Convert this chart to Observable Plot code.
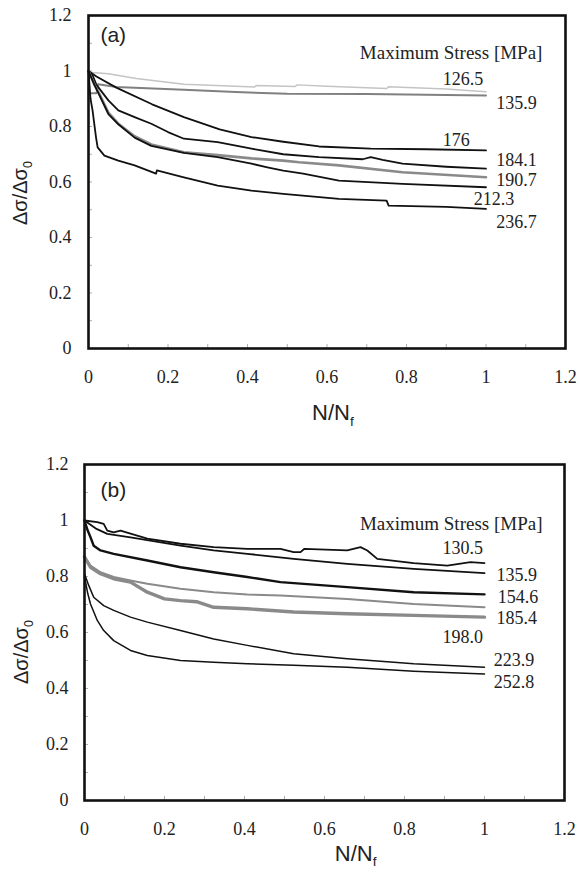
<!DOCTYPE html>
<html><head><meta charset="utf-8">
<script src="https://cdn.jsdelivr.net/npm/d3@7"></script>
<script src="https://cdn.jsdelivr.net/npm/@observablehq/plot@0.6"></script>
<style>
body{margin:0;background:#fff;}
#chart{width:580px;}
#chart svg{display:block;}
#chart svg text{font-family:'Liberation Serif','Times New Roman',serif;}
#chart svg text.sans{font-family:'Liberation Sans',Arial,sans-serif;}
</style></head><body><div id="chart"></div>
<script>
// ---------- Panel (a) series: [N/Nf, Δσ/Δσ0] ----------
const a1265 = [[0,1.0],[0.01,0.995],[0.05,0.99],[0.12,0.973],[0.24,0.952],[0.37,0.945],[0.418,0.942],[0.422,0.948],[0.52,0.944],[0.525,0.95],[0.6,0.945],[0.75,0.937],[0.755,0.943],[0.9,0.935],[1.0,0.925]];
const a1359 = [[0,0.92],[0.02,0.92],[0.024,0.952],[0.07,0.942],[0.24,0.932],[0.37,0.924],[0.5,0.918],[0.7,0.917],[1.0,0.912]];
const a176  = [[0,1.0],[0.02,0.98],[0.07,0.94],[0.16,0.88],[0.24,0.834],[0.33,0.79],[0.41,0.762],[0.49,0.745],[0.58,0.728],[0.71,0.72],[0.85,0.718],[1.0,0.714]];
const a1841 = [[0,1.0],[0.01,0.985],[0.02,0.95],[0.05,0.894],[0.075,0.858],[0.116,0.834],[0.158,0.81],[0.2,0.78],[0.24,0.756],[0.325,0.744],[0.41,0.72],[0.49,0.70],[0.58,0.69],[0.69,0.682],[0.71,0.69],[0.74,0.68],[0.79,0.666],[0.9,0.655],[1.0,0.648]];
const a1907 = [[0,1.0],[0.015,0.95],[0.03,0.91],[0.05,0.85],[0.075,0.81],[0.116,0.765],[0.158,0.735],[0.24,0.707],[0.325,0.697],[0.41,0.685],[0.49,0.677],[0.53,0.671],[0.63,0.66],[0.79,0.635],[1.0,0.617]];
const a2123 = [[0,1.0],[0.015,0.95],[0.03,0.905],[0.05,0.845],[0.075,0.808],[0.116,0.76],[0.158,0.73],[0.24,0.705],[0.325,0.69],[0.41,0.666],[0.45,0.653],[0.49,0.641],[0.54,0.63],[0.63,0.605],[0.79,0.593],[1.0,0.581]];
const a2367 = [[0,1.0],[0.005,0.9],[0.01,0.86],[0.019,0.76],[0.023,0.725],[0.04,0.695],[0.075,0.677],[0.116,0.66],[0.17,0.63],[0.172,0.642],[0.24,0.617],[0.325,0.587],[0.41,0.569],[0.49,0.557],[0.63,0.539],[0.75,0.533],[0.755,0.515],[0.9,0.51],[1.0,0.503]];

// ---------- Panel (b) series ----------
const b1305 = [[0,1.0],[0.032,0.994],[0.048,0.988],[0.057,0.964],[0.073,0.958],[0.09,0.964],[0.157,0.935],[0.24,0.917],[0.323,0.905],[0.407,0.899],[0.49,0.899],[0.523,0.887],[0.54,0.887],[0.55,0.899],[0.657,0.893],[0.69,0.905],[0.707,0.893],[0.732,0.863],[0.823,0.848],[0.907,0.839],[0.965,0.851],[1.0,0.848]];
const b1359 = [[0,1.0],[0.03,0.97],[0.057,0.952],[0.115,0.94],[0.24,0.91],[0.323,0.893],[0.407,0.881],[0.523,0.863],[0.657,0.845],[0.823,0.827],[1.0,0.812]];
const b1546 = [[0,1.0],[0.008,0.964],[0.015,0.94],[0.023,0.91],[0.04,0.893],[0.073,0.881],[0.157,0.857],[0.24,0.833],[0.323,0.815],[0.407,0.798],[0.49,0.78],[0.657,0.762],[0.823,0.744],[1.0,0.736]];
const b1854 = [[0,0.87],[0.015,0.839],[0.04,0.815],[0.073,0.798],[0.115,0.786],[0.157,0.774],[0.24,0.756],[0.323,0.744],[0.407,0.736],[0.49,0.732],[0.657,0.72],[0.823,0.702],[1.0,0.69]];
const b1980 = [[0,0.87],[0.015,0.833],[0.04,0.81],[0.073,0.792],[0.115,0.78],[0.157,0.744],[0.2,0.72],[0.24,0.714],[0.28,0.71],[0.323,0.69],[0.407,0.685],[0.523,0.673],[0.657,0.667],[0.823,0.661],[1.0,0.655]];
const b2239 = [[0,0.81],[0.01,0.77],[0.023,0.726],[0.048,0.696],[0.073,0.679],[0.115,0.655],[0.157,0.637],[0.24,0.607],[0.323,0.577],[0.407,0.554],[0.523,0.524],[0.657,0.506],[0.823,0.488],[1.0,0.476]];
const b2528 = [[0,0.8],[0.008,0.74],[0.015,0.702],[0.032,0.643],[0.048,0.607],[0.073,0.571],[0.115,0.536],[0.157,0.518],[0.24,0.5],[0.323,0.494],[0.407,0.488],[0.523,0.483],[0.657,0.476],[0.823,0.462],[1.0,0.452]];

// ---------- Labels ----------
const legendTitle = "Maximum Stress [MPa]";
const labelsA = ["126.5","135.9","176","184.1","190.7","212.3","236.7"];
const labelXA = [0.891,1.026,0.891,1.026,1.026,0.969,1.026];
const labelYA = [0.972,0.883,0.752,0.677,0.605,0.537,0.454];
const labelsB = ["130.5","135.9","154.6","185.4","198.0","223.9","252.8"];
const labelXB = [0.895,1.03,1.033,1.03,0.895,1.023,1.023];
const labelYB = [0.9,0.804,0.725,0.65,0.582,0.5,0.421];

// ---------- Ticks ----------
const xMajor = [0,0.2,0.4,0.6,0.8,1,1.2];
const yMajor = [0,0.2,0.4,0.6,0.8,1,1.2];
const minorTicks = [0.1,0.2,0.3,0.4,0.5,0.6,0.7,0.8,0.9,1.0,1.1];
const xTitle = "N/Nf";
const yTitle = "Δσ/Δσ0";

const fmt = d => String(+d.toFixed(1));
const toRows = pts => pts.map(([u, v]) => ({u, v}));

function panel(cfg) {
  const marks = [
    Plot.axisX({ticks: minorTicks, tickSize: -4, fill: "none", stroke: "#b0b0b0", label: null}),
    Plot.axisY({ticks: minorTicks, tickSize: -4, fill: "none", stroke: "#b0b0b0", label: null}),
    Plot.axisX({ticks: xMajor, tickSize: 0, tickPadding: 22, tickFormat: fmt, label: null, fontSize: 18, fill: "#222"}),
    Plot.axisY({ticks: yMajor, tickSize: 0, tickPadding: cfg.yPad, tickFormat: fmt, label: null, fontSize: 18, fill: "#222"}),
    ...cfg.series.map(s => Plot.line(toRows(s.pts), {x: "u", y: "v", stroke: s.color, strokeWidth: s.w, strokeLinejoin: "round"})),
    Plot.frame({strokeWidth: 2.6, stroke: "#111"}),
    Plot.text([legendTitle], {text: d => d, x: cfg.titleX, y: cfg.titleY, textAnchor: "end", lineAnchor: "middle", fontSize: 19, fill: "#222"}),
    Plot.text(cfg.labels, {text: d => d, x: (d, i) => cfg.lx[i], y: (d, i) => cfg.ly[i], textAnchor: "start", lineAnchor: "middle", fontSize: 18, fill: "#222"}),
    Plot.text([cfg.tag], {text: d => d, x: cfg.tagX, y: cfg.tagY, textAnchor: "start", lineAnchor: "middle", fontSize: 21, fill: "#222"}),
    Plot.text([xTitle], {text: d => d, x: cfg.xtX, y: cfg.xtY, lineAnchor: "middle", fontSize: 22, fill: "#222"}),
    Plot.text([yTitle], {text: d => d, x: cfg.ytX, y: cfg.ytY, rotate: -90, lineAnchor: "middle", fontSize: 20, fill: "#222"})
  ];
  const svg = Plot.plot({
    width: 580, height: cfg.height,
    marginTop: cfg.mt, marginBottom: cfg.mb, marginLeft: cfg.ml, marginRight: cfg.mr,
    x: {domain: [0, 1.2]}, y: {domain: [0, 1.2]},
    style: {background: "#fff", color: "#111"},
    marks
  });
  const sansTexts = [cfg.tag, xTitle, yTitle];
  d3.select(svg).selectAll("text").filter(function() { return sansTexts.includes(this.textContent); }).classed("sans", true);
  subscript(svg, yTitle, "Δσ/Δσ", "0");
  subscript(svg, xTitle, "N/N", "f");
  return svg;
}

function subscript(svg, full, base, sub) {
  d3.select(svg).selectAll("text").filter(function() { return this.textContent === full; }).each(function() {
    const t = d3.select(this);
    t.text(null);
    t.append("tspan").text(base);
    t.append("tspan").attr("font-size", "62%").attr("dy", "0.4em").text(sub);
  });
}

const chart = document.getElementById("chart");
chart.append(panel({
  height: 430, mt: 15, mb: 82, ml: 88, mr: 15, yPad: 17,
  series: [
    {pts: a1265, color: "#c4c4c4", w: 1.5},
    {pts: a1359, color: "#808080", w: 2},
    {pts: a176,  color: "#111", w: 1.8},
    {pts: a1841, color: "#111", w: 1.8},
    {pts: a1907, color: "#8a8a8a", w: 2.6},
    {pts: a2123, color: "#111", w: 1.8},
    {pts: a2367, color: "#111", w: 1.8}
  ],
  labels: labelsA, lx: labelXA, ly: labelYA,
  titleX: 1.142, titleY: 1.067,
  tag: "(a)", tagX: 0.03, tagY: 1.128,
  xtX: 0.615, xtY: -0.234, ytX: -0.171, ytY: 0.56
}));
chart.append(panel({
  height: 448, mt: 34, mb: 78, ml: 84, mr: 16, yPad: 16,
  series: [
    {pts: b1305, color: "#111", w: 1.8},
    {pts: b1359, color: "#111", w: 1.8},
    {pts: b1546, color: "#111", w: 2.4},
    {pts: b1854, color: "#8a8a8a", w: 2},
    {pts: b1980, color: "#8a8a8a", w: 3.4},
    {pts: b2239, color: "#111", w: 1.5},
    {pts: b2528, color: "#111", w: 1.5}
  ],
  labels: labelsB, lx: labelXB, ly: labelYB,
  titleX: 1.145, titleY: 0.989,
  tag: "(b)", tagX: 0.04, tagY: 1.107,
  xtX: 0.678, xtY: -0.19, ytX: -0.158, ytY: 0.53
}));
</script>
</body></html>
